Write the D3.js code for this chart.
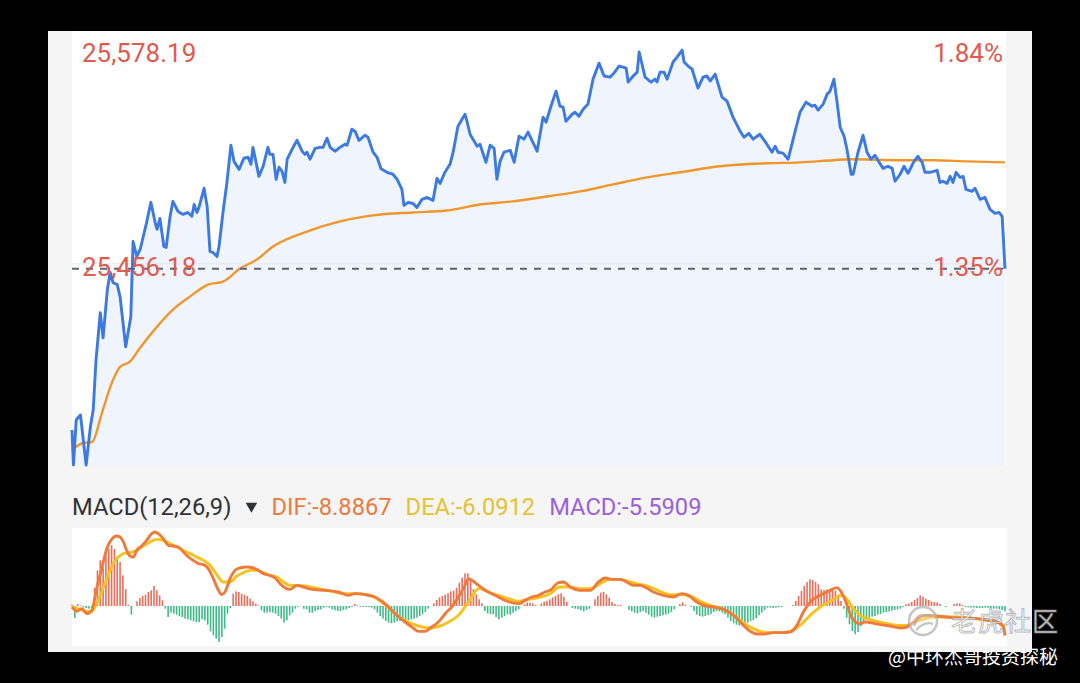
<!DOCTYPE html>
<html>
<head>
<meta charset="utf-8">
<script src="https://cdn.jsdelivr.net/npm/d3@7"></script>
<style>
  html, body { margin: 0; padding: 0; background: #000; }
  svg { display: block; }
</style>
</head>
<body>
<div id="chart-area"></div>
<script>
// minute of session, price
var prices = [[0,25373.5],[0.5,25355.5],[1.5,25378.7],[3,25381.2],[5,25355.5],[6.5,25375.1],[7.5,25383.8],[8.5,25409.5],[10,25433.7],[11,25420.8],[12.5,25445.5],[13.5,25454.3],[14.5,25449.1],[16,25448.1],[17,25441.9],[19,25416.2],[20.8,25431.6],[21.6,25470.2],[22.9,25462.5],[24.1,25466.1],[26.4,25480.0],[27.9,25490.3],[29.4,25480.0],[30.1,25476.4],[31.1,25482.0],[32.5,25467.6],[33.3,25467.1],[34.7,25483.1],[35.7,25490.8],[37.5,25485.6],[39.3,25484.1],[41.0,25485.1],[42.4,25483.1],[43.2,25489.2],[44.2,25485.1],[44.9,25487.7],[46.7,25497.5],[47.8,25488.2],[48.8,25465.1],[49.9,25464.5],[51.3,25462.5],[52.0,25467.6],[53.4,25485.1],[54.8,25500.5],[56.2,25519.6],[57.3,25511.3],[59.1,25507.2],[60.8,25512.9],[62.3,25513.4],[63.3,25509.8],[64.0,25518.5],[65.1,25510.8],[66.1,25503.6],[67.6,25508.8],[69.3,25518.5],[70.0,25514.9],[71.1,25514.9],[72.2,25502.1],[73.2,25508.3],[74.3,25506.2],[75.3,25500.5],[76.1,25512.4],[78.2,25518.5],[79.6,25522.1],[81.4,25516.5],[82.4,25514.9],[83.1,25516.0],[84.2,25512.4],[86.0,25518.0],[87.7,25518.5],[88.8,25518.5],[90.2,25523.2],[91.3,25518.5],[93.0,25516.5],[94.8,25518.5],[96.6,25520.1],[97.3,25519.6],[99.0,25527.8],[100.1,25526.8],[101.5,25522.1],[103.6,25524.7],[104.7,25523.7],[106.5,25516.0],[107.9,25513.4],[109.3,25507.5],[111.4,25505.7],[113.5,25504.7],[115.0,25502.1],[116.7,25496.9],[117.4,25488.7],[118.9,25490.3],[120.6,25489.7],[122.0,25487.7],[123.8,25491.8],[125.6,25492.8],[127.7,25491.3],[129.1,25502.6],[130.2,25500.0],[131.9,25505.7],[133.7,25509.8],[134.8,25516.0],[136.5,25529.3],[139.0,25535.5],[139.7,25531.9],[140.8,25525.2],[143.3,25519.1],[144.3,25520.1],[146.4,25510.8],[147.9,25519.6],[149.3,25518.0],[150.3,25502.1],[151.4,25511.3],[152.8,25516.0],[155.0,25517.0],[156.4,25510.8],[158.1,25524.2],[159.9,25522.7],[161.3,25526.3],[164.5,25516.5],[166.6,25534.0],[167.7,25531.4],[169.4,25539.6],[171.2,25547.3],[172.6,25539.6],[173.7,25539.1],[174.7,25531.9],[176.9,25535.5],[177.9,25536.5],[179.3,25534.5],[180.8,25538.1],[182.5,25540.7],[184.3,25553.5],[186.4,25561.7],[188.2,25555.1],[190.3,25554.5],[191.4,25556.1],[193.5,25560.2],[194.9,25559.7],[196.0,25559.2],[196.7,25552.0],[198.5,25555.1],[199.9,25557.1],[200.6,25567.4],[202.7,25554.5],[204.8,25552.0],[206.2,25553.5],[206.9,25552.0],[208.0,25557.1],[209.4,25557.1],[210.5,25553.5],[212.6,25562.3],[214.0,25564.8],[215.8,25568.4],[216.5,25562.3],[217.9,25560.2],[219.3,25558.7],[221.4,25548.9],[223.2,25554.5],[224.6,25555.1],[225.7,25552.5],[227.5,25556.1],[229.9,25544.3],[231.7,25542.2],[233.8,25534.0],[236.3,25526.8],[237.7,25523.7],[239.4,25525.7],[240.9,25522.7],[243.3,25525.2],[245.1,25521.6],[247.6,25516.0],[248.7,25519.1],[249.7,25516.0],[251.5,25515.5],[253.3,25512.4],[255.7,25526.3],[257.5,25536.5],[259.6,25541.7],[261.8,25539.6],[262.8,25540.1],[263.9,25537.6],[265.7,25540.7],[267.1,25545.8],[268.1,25547.3],[269.5,25553.5],[270.6,25541.7],[271.7,25528.8],[273.1,25524.2],[274.1,25517.5],[275.6,25504.7],[276.3,25504.7],[278.0,25516.0],[279.8,25524.7],[281.2,25516.0],[282.6,25512.4],[284.0,25514.4],[285.5,25510.8],[286.9,25507.7],[288.6,25508.8],[290.1,25507.7],[291.1,25501.1],[292.9,25504.7],[294.3,25508.8],[295.7,25505.2],[297.8,25511.3],[299.2,25513.9],[300.7,25510.8],[301.7,25505.7],[303.5,25505.7],[306.0,25506.7],[307.0,25500.5],[308.1,25501.1],[309.5,25500.0],[310.6,25503.6],[311.6,25500.5],[312.7,25505.7],[314.1,25503.1],[315.2,25503.6],[316.2,25496.9],[318.4,25495.9],[319.4,25497.5],[321.2,25491.8],[322.9,25492.8],[324.7,25486.7],[326.5,25484.6],[327.9,25485.1],[329.0,25483.1],[330,25456.18]];

var avgPrices = [[0,25363.2],[3.9,25366.8],[7.1,25367.3],[10.6,25382.3],[14.1,25397.7],[17.0,25405.9],[20.5,25408.5],[24.1,25415.7],[30.1,25426.5],[35.7,25435.2],[41.7,25441.9],[48.1,25448.1],[53.4,25449.6],[59.4,25456.3],[65.4,25460.9],[71.1,25467.6],[83.1,25475.3],[94.8,25480.5],[106.5,25483.6],[120.6,25485.1],[132.6,25486.1],[144.3,25489.2],[156.0,25490.8],[168.0,25493.3],[179.7,25495.9],[191.4,25499.5],[203.4,25503.1],[215.1,25505.7],[229.2,25508.8],[245.8,25510.3],[257.5,25510.8],[269.2,25511.9],[275.2,25512.4],[292.9,25511.9],[304.6,25511.9],[316.6,25511.3],[330,25510.8]];

var difLine = [[0,-0.3],[1.7,-1.6],[3.4,-0.8],[5.2,-2.3],[7.0,-1.3],[8.7,5.2],[10.5,11.2],[12.3,17.2],[14.0,20],[15.8,21],[17.0,20.7],[18.2,19.2],[19.3,16.7],[20.5,15],[21.7,14.7],[22.9,16.7],[24.6,18],[26.4,19.7],[28.2,21.7],[29.4,22.2],[30.5,21.7],[32.3,20.2],[34.1,18.2],[35.8,18],[37.6,17.7],[39.4,16.2],[41.2,14.7],[42.9,13.7],[44.7,12.7],[46.5,12.4],[48.2,11.2],[50.0,8.2],[51.8,4.7],[52.9,3.4],[54.1,4.2],[55.9,8.2],[57.7,10.7],[59.4,11.4],[61.8,11.7],[64.2,11.4],[65.9,10.7],[67.7,9.7],[70.0,9.2],[71.8,8.4],[73.6,6.7],[75.4,5.4],[77.1,5.0],[79.5,6.2],[81.8,5.7],[84.8,5.0],[89.5,4.7],[94.2,4.2],[97.7,3.2],[100.1,3.7],[103.7,3.4],[107.2,2.7],[110.7,0.7],[114.3,-2.3],[117.8,-4.8],[120.2,-6.3],[122.5,-7.6],[124.9,-7.6],[127.2,-6.3],[129.6,-4.8],[132.0,-2.3],[134.3,-0.3],[136.7,2.7],[139.0,6.2],[140.2,8.2],[141.4,7.7],[143.8,6.2],[146.1,4.7],[148.5,3.7],[150.8,2.7],[153.2,1.7],[155.6,1.0],[157.9,0.7],[160.3,1.7],[162.6,2.7],[165.0,3.2],[167.3,4.2],[169.1,4.7],[172.1,7.0],[173.8,7.2],[176.2,5.7],[179.7,4.7],[183.3,4.7],[186.2,7.2],[188.6,8.4],[190.9,8.0],[193.9,8.0],[196.2,7.2],[198.6,6.2],[200.9,6.2],[203.3,5.4],[205.7,4.2],[209.2,3.2],[212.7,2.7],[215.7,3.7],[218.0,3.2],[221.0,1.2],[223.3,0.2],[226.9,-0.3],[230.4,-1.0],[234.0,-2.8],[237.5,-5.8],[239.9,-7.6],[242.2,-8.4],[244.6,-8.4],[248.1,-8.0],[250.5,-8.0],[254.0,-7.8],[256.4,-5.8],[258.7,-1.8],[261.1,1.2],[263.4,2.7],[265.8,3.7],[268.2,4.7],[270.5,5.5],[271.7,4.7],[273.5,1.7],[275.2,-2.3],[277.0,-4.8],[278.8,-5.3],[280.5,-4.8],[282.3,-5.0],[285.8,-5.6],[289.4,-6.0],[292.9,-6.6],[295.3,-6.3],[297.7,-4.8],[300.0,-3.0],[302.4,-2.8],[305.9,-3.0],[309.5,-3.3],[312.5,-3.6],[316.5,-3.6],[320.1,-3.8],[323.6,-4.3],[327.2,-4.8],[329.5,-6.3],[330,-8.89]];

var deaLine = [[0,-0.3],[2.8,-1],[5.2,-1.6],[7.0,-1.6],[8.7,0.7],[10.5,4.2],[12.3,8.2],[14.0,11.7],[15.8,14.2],[18.2,15.7],[20.5,16],[22.9,16.7],[25.2,18],[27.6,19.2],[30.0,20],[32.3,19.7],[34.7,18.7],[37.0,17.7],[39.4,16.7],[41.8,15.7],[44.1,14.7],[46.5,13.7],[48.8,12.2],[51.2,9.4],[53.5,7.2],[55.9,7.2],[58.3,9.0],[60.6,10.0],[63.0,10.7],[65.3,10.7],[67.7,10.0],[70.0,9.2],[72.4,8.7],[74.8,7.2],[77.1,6.2],[79.5,6.2],[82.4,6.0],[87.2,5.2],[91.9,4.4],[96.6,3.7],[101.3,3.7],[106.0,3.0],[109.5,1.2],[113.0,-1.3],[116.6,-3.8],[120.2,-5.3],[123.7,-6.3],[127.2,-6.6],[130.8,-5.8],[134.3,-4.3],[136.7,-2.8],[139.0,-0.3],[141.4,2.7],[143.8,5.2],[146.1,4.7],[148.5,3.7],[150.8,3.2],[154.4,2.2],[157.9,1.4],[161.4,2.0],[165.0,2.5],[169.1,3.7],[172.6,5.7],[176.2,5.7],[179.7,5.2],[183.3,5.2],[186.8,6.7],[190.3,8.0],[193.9,8.0],[197.4,7.2],[200.9,6.5],[204.5,5.7],[208.0,4.4],[211.6,3.4],[215.1,3.4],[218.6,3.0],[222.2,1.4],[225.7,0.2],[229.3,-0.6],[232.8,-2.0],[236.3,-4.3],[239.9,-6.3],[243.4,-7.6],[246.9,-8.0],[250.5,-8.0],[254.0,-7.6],[257.5,-5.8],[261.1,-2.8],[264.6,-0.3],[268.2,1.4],[270.5,2.7],[272.3,3.2],[274.1,2.0],[276.4,-0.8],[278.8,-2.8],[281.2,-3.8],[284.7,-4.6],[288.2,-5.3],[291.8,-5.8],[295.3,-5.8],[298.8,-4.6],[302.4,-3.6],[305.9,-3.3],[309.5,-3.3],[313.0,-3.3],[316.5,-3.6],[320.1,-3.8],[323.6,-4.0],[327.2,-4.8],[330,-6.09]];

// one MACD bar per minute, 0..330
var macdBars = [
  0.4, -3.6, 0.6, 0.2, -0.4, -0.6, -0.8, -0.6, 5.4, 10.7,
  13.7, 11.7, 15.2, 17.1, 18.3, 17.1, 14.4, 13.2, 9.2, 5.1,
  0.3, -2.6, 0, 1.4, 2.4, 3.0, 3.4, 4.2, 4.7, 6.0,
  4.7, 3.2, 1.7, -0.8, -3.3, -2.0, -2.3, -2.6, -3.0, -3.3,
  -3.8, -4.0, -4.3, -4.6, -4.8, -4.8, -4.0, -4.3, -5.6, -7.6,
  -8.8, -9.8, -10.8, -9.3, -6.8, -2.3, -0.6, 3.7, 4.4, 4.2,
  3.7, 3.4, 3.0, 2.2, 1.4, 0.7, 0.2, -1.3, -2.0, -2.0,
  -1.8, -2.0, -2.3, -3.0, -3.8, -5.0, -4.3, -2.8, -2.0, -0.8,
  -0.3, 0, -0.8, -1.0, -2.0, -2.0, -1.5, -1.2, -1.0, -0.5,
  -0.3, -0.5, -1.0, -1.3, -1.5, -1.5, -1.2, -1.0, -0.6, -0.3,
  0.6, 0.2, -0.3, -0.3, -0.3, -0.3, -0.5, -1.0, -2.0, -3.0,
  -3.8, -4.5, -5.0, -5.2, -5.0, -4.6, -4.5, -4.3, -4.5, -4.3,
  -4.0, -3.8, -3.5, -3.0, -2.5, -1.8, -0.8, 0, 0.8, 1.8,
  2.6, 3.0, 3.4, 3.8, 4.4, 4.6, 5.5, 7.0, 8.5, 9.8,
  9.8, 7.5, 5.0, 3.5, 2.0, 0.8, -1.5, -2.2, -2.4, -2.5,
  -3.3, -4.0, -3.5, -3.0, -2.5, -2.6, -2.0, -1.5, -1.0, 0,
  0.5, 1.0, 1.0, 0.8, 0.3, 0, 0.8, 1.3, 1.6, 2.0,
  2.6, 3.0, 3.5, 3.8, 2.8, 1.3, 0, -0.6, -0.8, -1.0,
  -1.3, -1.6, -1.2, -0.8, 0, 2.0, 3.0, 4.0, 4.2, 3.5,
  2.5, 1.2, 0.6, 0.4, 0.3, 0, 0, -1.2, -1.6, -2.0,
  -2.2, -1.8, -1.5, -2.0, -2.6, -3.2, -3.5, -3.2, -3.0, -2.8,
  -2.6, -2.3, -1.8, -1.0, 0, 0.6, 1.1, 0.4, 0, -0.3,
  -1.5, -2.6, -3.0, -3.2, -3.0, -2.7, -2.4, -1.8, -1.5, -1.6,
  -2.0, -2.5, -3.5, -4.5, -5.2, -5.6, -5.8, -5.6, -5.4, -5.0,
  -4.6, -4.2, -3.6, -2.8, -2.0, -1.2, -0.5, -0.5, -0.6, -0.5,
  -0.4, -0.3, 0, 0, 0, 0.3, 1.5, 3.0, 4.5, 6.0,
  7.2, 8.0, 7.8, 7.2, 6.5, 5.0, 4.8, 5.0, 5.0, 4.8,
  4.6, 3.5, 1.5, -0.8, -3.5, -5.5, -7.5, -8.5, -7.8, -6.0,
  -5.0, -4.2, -3.5, -3.2, -3.0, -2.6, -2.4, -2.0, -1.8, -1.6,
  -1.4, -1.2, -1.0, -0.8, -0.3, 0.5, 0.8, 1.2, 1.8, 2.4,
  3.2, 2.8, 2.2, 1.8, 1.4, 1.2, 1.0, 0.6, 0, -0.3,
  0, 0, 0.6, 0.8, 0.8, 0.3, -0.3, -0.4, -0.5, -0.5,
  -0.6, -0.6, -0.6, -0.5, -0.5, -0.6, -0.8, -0.8, -1.0, -1.2,
  -1.6
];

var priceDomain = [25355.0, 25578.19];
var macdDomain = [-12, 23.4];
var sessionMinutes = 330;
var lastPrice = 25456.18;
var priceLabels = ["25,578.19", "25,456.18"];
var pctLabels = ["1.84%", "1.35%"];
var macdTitle = "MACD(12,26,9)";
var macdValues = ["DIF:-8.8867", "DEA:-6.0912", "MACD:-5.5909"];
var brandText = "老虎社区";
var authorText = "@中环杰哥投资探秘";

var red = "#e15a4d";
var legendColors = ["#ec7a3d", "#e6c132", "#9b5fdc"];

var svg = d3.select("#chart-area")
    .append("svg")
    .attr("width", 1080)
    .attr("height", 683);

svg.append("rect")
    .attr("x", 0).attr("y", 0)
    .attr("width", 1080).attr("height", 683)
    .attr("fill", "#000");

svg.append("rect")
    .attr("x", 48).attr("y", 31)
    .attr("width", 984).attr("height", 621)
    .attr("fill", "#f5f5f6");

var x = d3.scaleLinear().domain([0, sessionMinutes]).range([72, 1005]);
var y = d3.scaleLinear().domain(priceDomain).range([466, 31]);
var ym = d3.scaleLinear().domain(macdDomain).range([646, 528]);

// price panel
svg.append("rect")
    .attr("x", 72).attr("y", 31)
    .attr("width", 934).attr("height", 435)
    .attr("fill", "#fff");

var area = d3.area()
    .x((d) => x(d[0]))
    .y0(y.range()[0])
    .y1((d) => y(d[1]));

svg.append("path")
    .datum(prices)
    .attr("d", area)
    .attr("fill", "#eff4fd");

svg.append("line")
    .attr("x1", 72).attr("x2", 1005)
    .attr("y1", y(lastPrice) - 5).attr("y2", y(lastPrice) - 5)
    .attr("stroke", "#e4e7ec")
    .attr("stroke-width", 1);

var line = d3.line()
    .x((d) => x(d[0]))
    .y((d) => y(d[1]));

svg.append("path")
    .datum(avgPrices)
    .attr("d", line.curve(d3.curveMonotoneX))
    .attr("fill", "none")
    .attr("stroke", "#f0962b")
    .attr("stroke-width", 2.4);

svg.append("path")
    .datum(prices)
    .attr("d", d3.line().x((d) => x(d[0])).y((d) => y(d[1])))
    .attr("fill", "none")
    .attr("stroke", "#3c79e1")
    .attr("stroke-width", 2.9)
    .attr("stroke-linejoin", "round");

svg.append("line")
    .attr("x1", 72).attr("x2", 1005)
    .attr("y1", y(lastPrice)).attr("y2", y(lastPrice))
    .attr("stroke", "#5b6270")
    .attr("stroke-width", 2)
    .attr("stroke-dasharray", "7,7");

var labelFont = "Roboto, 'Noto Sans', sans-serif";

svg.append("text")
    .attr("x", 82).attr("y", 62)
    .attr("font-family", labelFont).attr("font-size", 26)
    .attr("fill", red)
    .text(priceLabels[0]);

svg.append("text")
    .attr("x", 1003).attr("y", 62)
    .attr("text-anchor", "end")
    .attr("font-family", labelFont).attr("font-size", 26)
    .attr("fill", red)
    .text(pctLabels[0]);

svg.append("text")
    .attr("x", 82).attr("y", y(lastPrice) + 7)
    .attr("font-family", labelFont).attr("font-size", 26)
    .attr("fill", red)
    .text(priceLabels[1]);

svg.append("text")
    .attr("x", 1003).attr("y", y(lastPrice) + 7)
    .attr("text-anchor", "end")
    .attr("font-family", labelFont).attr("font-size", 26)
    .attr("fill", red)
    .text(pctLabels[1]);

// MACD legend row
var title = svg.append("text")
    .attr("x", 72).attr("y", 515)
    .attr("font-family", labelFont).attr("font-size", 23.7)
    .attr("fill", "#303236")
    .text(macdTitle);

var cx = 72 + title.node().getComputedTextLength();

svg.append("path")
    .attr("d", d3.symbol(d3.symbolTriangle, 58)())
    .attr("transform", "translate(" + (cx + 20) + ",506) rotate(180)")
    .attr("fill", "#303236");

cx += 40;
macdValues.forEach((t, i) => {
    var node = svg.append("text")
        .attr("x", cx).attr("y", 515)
        .attr("font-family", labelFont).attr("font-size", 23.7)
        .attr("fill", legendColors[i])
        .text(t);
    cx += node.node().getComputedTextLength() + 14;
});

// MACD panel
svg.append("rect")
    .attr("x", 72).attr("y", 528)
    .attr("width", 935).attr("height", 118)
    .attr("fill", "#fff");

svg.selectAll(".bar").data(macdBars)
    .enter()
    .append("rect")
        .attr("class", "bar")
        .attr("x", (d, i) => x(i) - 0.8)
        .attr("width", 1.6)
        .attr("y", (d) => Math.min(ym(d), ym(0)))
        .attr("height", (d) => Math.abs(ym(d) - ym(0)))
        .attr("fill", (d) => d >= 0 ? "#f06b58" : "#3dbd86");

var mline = d3.line()
    .x((d) => x(d[0]))
    .y((d) => ym(d[1]))
    .curve(d3.curveMonotoneX);

svg.append("path")
    .datum(deaLine)
    .attr("d", mline)
    .attr("fill", "none")
    .attr("stroke", "#f6c21c")
    .attr("stroke-width", 2.9);

svg.append("path")
    .datum(difLine)
    .attr("d", mline)
    .attr("fill", "none")
    .attr("stroke", "#ef7a3a")
    .attr("stroke-width", 2.9);

// watermark
var wm = svg.append("g").attr("opacity", 0.9);
wm.append("circle")
    .attr("cx", 923).attr("cy", 621).attr("r", 14)
    .attr("fill", "rgba(255,255,255,0.35)")
    .attr("stroke", "rgba(175,175,175,0.8)")
    .attr("stroke-width", 2.5);
wm.append("path")
    .attr("d", "M914,626 C918,616 926,613 932,616 M916,630 C922,624 928,622 933,624")
    .attr("fill", "none")
    .attr("stroke", "rgba(175,175,175,0.8)")
    .attr("stroke-width", 2.2);
wm.append("text")
    .attr("x", 951).attr("y", 631)
    .attr("font-family", "'Noto Sans CJK SC', sans-serif")
    .attr("font-size", 26)
    .attr("letter-spacing", 1)
    .attr("fill", "rgba(255,255,255,0.85)")
    .attr("stroke", "rgba(140,140,140,0.65)")
    .attr("stroke-width", 1)
    .text(brandText);

svg.append("text")
    .attr("x", 1058).attr("y", 664)
    .attr("text-anchor", "end")
    .attr("font-family", "'Noto Sans CJK SC', sans-serif")
    .attr("font-size", 19)
    .attr("fill", "#fff")
    .text(authorText);
</script>
</body>
</html>
